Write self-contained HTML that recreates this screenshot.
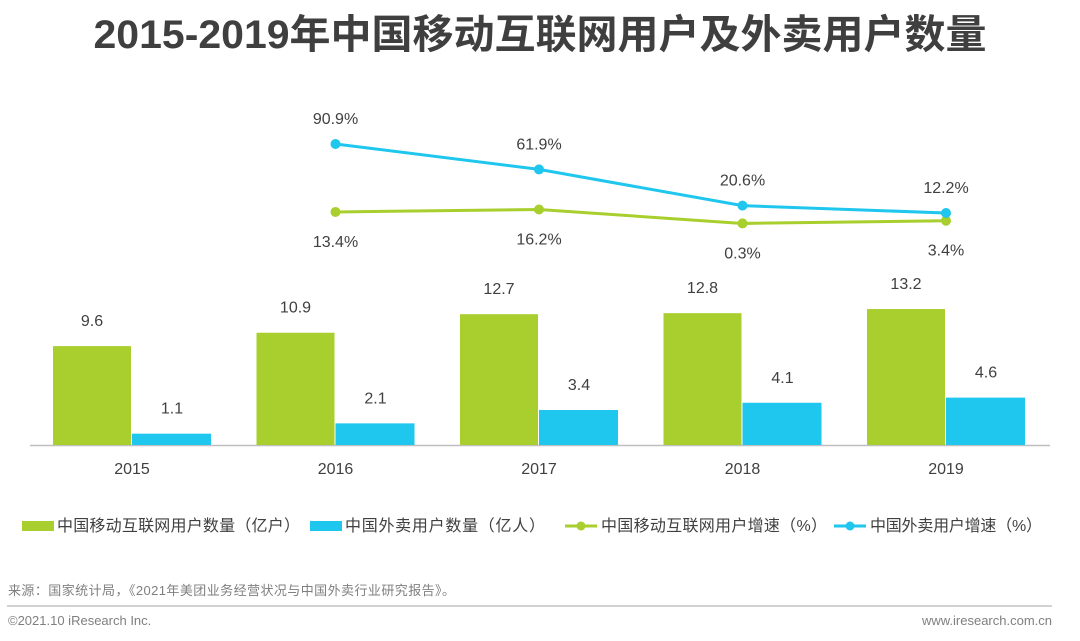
<!DOCTYPE html>
<html><head><meta charset="utf-8">
<style>
html,body{margin:0;padding:0;background:#fff;width:1080px;height:641px;overflow:hidden}
svg{display:block}
text{font-family:"Liberation Sans","Noto Sans CJK SC",sans-serif}
</style></head>
<body>
<svg id="c" width="1080" height="641" viewBox="0 0 1080 641">
<text x="540" y="48" text-anchor="middle" font-size="40" font-weight="bold" fill="#3f3f3f" textLength="893" lengthAdjust="spacingAndGlyphs">2015-2019年中国移动互联网用户及外卖用户数量</text>
<line x1="30" y1="445.5" x2="1050" y2="445.5" stroke="#bfbfbf" stroke-width="1.5"/>
<g id="bars"></g><g id="lines"></g><g id="labels"></g>
<g>
<rect x="22" y="521" width="32" height="10" fill="#a8cf2e"/>
<text x="57" y="531" font-size="16" fill="#404040" textLength="243">中国移动互联网用户数量（亿户）</text>
<rect x="310" y="521" width="32" height="10" fill="#1fc6ee"/>
<text x="345" y="531" font-size="16" fill="#404040" textLength="200">中国外卖用户数量（亿人）</text>
<line x1="565" y1="526" x2="597" y2="526" stroke="#a8cf2e" stroke-width="3"/>
<circle cx="581" cy="526" r="4.5" fill="#a8cf2e"/>
<text x="601" y="531" font-size="16" fill="#404040" textLength="226">中国移动互联网用户增速（%）</text>
<line x1="834" y1="526" x2="866" y2="526" stroke="#1fc6ee" stroke-width="3"/>
<circle cx="850" cy="526" r="4.5" fill="#1fc6ee"/>
<text x="870" y="531" font-size="16" fill="#404040" textLength="172">中国外卖用户增速（%）</text>
</g>
<text x="8" y="595" font-size="13" fill="#7f7f7f" textLength="447">来源：国家统计局，《2021年美团业务经营状况与中国外卖行业研究报告》。</text>
<line x1="7" y1="606" x2="1052" y2="606" stroke="#a6a6a6" stroke-width="1"/>
<text x="8" y="625" font-size="13" fill="#7f7f7f">©2021.10 iResearch Inc.</text>
<text x="1052" y="625" font-size="13" fill="#7f7f7f" text-anchor="end">www.iresearch.com.cn</text>
</svg>
<script>
const years=["2015","2016","2017","2018","2019"];
const mobileUsers=[9.6,10.9,12.7,12.8,13.2];
const deliveryUsers=[1.1,2.1,3.4,4.1,4.6];
const growthYears=["2016","2017","2018","2019"];
const mobileGrowth=[13.4,16.2,0.3,3.4];
const deliveryGrowth=[90.9,61.9,20.6,12.2];
const NS="http://www.w3.org/2000/svg";
function xC(i){return 132+i*203.5;}
function yBar(v){return 445-v*10.3;}
function yLine(v){return 223.7-v*0.877;}
function mk(tag,attrs,parent){const e=document.createElementNS(NS,tag);for(const k in attrs)e.setAttribute(k,attrs[k]);parent.appendChild(e);return e;}
const gb=document.getElementById('bars'),gl=document.getElementById('lines'),gt=document.getElementById('labels');
years.forEach((y,i)=>{
  const cx=xC(i);
  let r=mk('rect',{x:cx-79,y:yBar(mobileUsers[i]),width:78,height:445-yBar(mobileUsers[i]),fill:'#a8cf2e'},gb);
  
  
  r=mk('rect',{x:cx,y:yBar(deliveryUsers[i]),width:79,height:445-yBar(deliveryUsers[i]),fill:'#1fc6ee'},gb);
  
  
  let t=mk('text',{x:cx-40,y:yBar(mobileUsers[i])-20,'text-anchor':'middle','font-size':16,fill:'#404040'},gt);t.textContent=mobileUsers[i].toFixed(1);
  
  
  t=mk('text',{x:cx+40,y:yBar(deliveryUsers[i])-20,'text-anchor':'middle','font-size':16,fill:'#404040'},gt);t.textContent=deliveryUsers[i].toFixed(1);
  
  
  t=mk('text',{x:cx,y:474,'text-anchor':'middle','font-size':16,fill:'#404040'},gt);t.textContent=y;
  
  
});
function series(vals,color,name,above){
  const pts=vals.map((v,i)=>[xC(i+1),yLine(v)]);
  const p=mk('polyline',{points:pts.map(p=>p.join(',')).join(' '),fill:'none',stroke:color,'stroke-width':3},gl);
  
  
  pts.forEach((pt,i)=>{
    const c=mk('circle',{cx:pt[0],cy:pt[1],r:5,fill:color},gl);
    
    
    const t=mk('text',{x:pt[0],y:above?pt[1]-20:pt[1]+35,'text-anchor':'middle','font-size':16,fill:'#404040'},gt);
    t.textContent=vals[i].toFixed(1)+'%';
    
    
  });
}
series(mobileGrowth,'#a8cf2e','mobile-growth',false);
series(deliveryGrowth,'#1fc6ee','delivery-growth',true);
</script>
</body></html>
